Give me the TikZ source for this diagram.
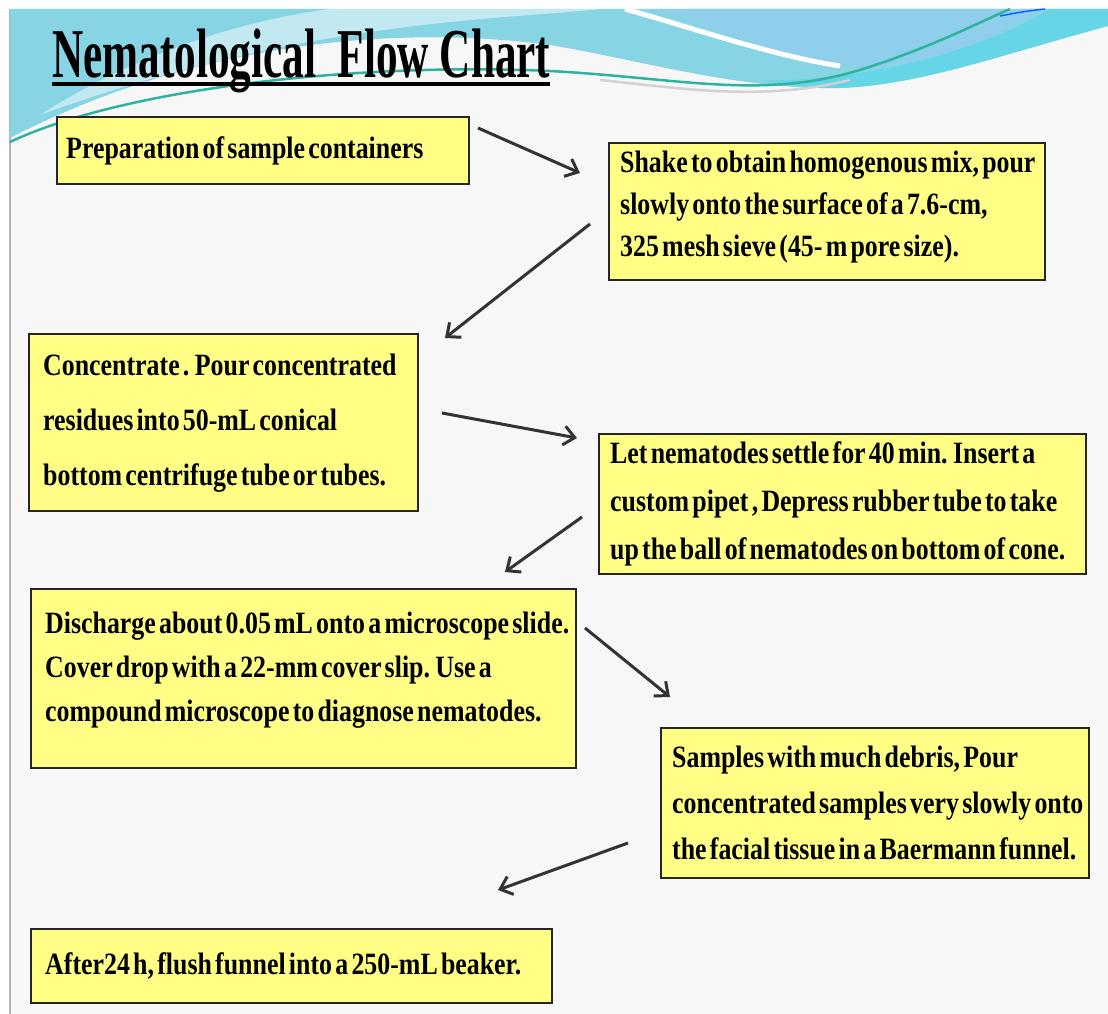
\documentclass[tikz,border=0pt]{standalone}
\usepackage{fontspec}
\usepackage{graphicx}
\setmainfont{Liberation Serif}
\newfontfamily\boxfont[FakeStretch=0.835,WordSpace=0.5]{Liberation Serif}
\usetikzlibrary{arrows.meta}
\definecolor{boxyellow}{HTML}{FFFF85}
\definecolor{slidebg}{HTML}{F7F7F7}
\definecolor{wcyan}{HTML}{86D4E4}
\definecolor{wcyanb}{HTML}{66D6E6}
\definecolor{wblue}{HTML}{8FCFEC}
\definecolor{wteal}{HTML}{2DB3A0}
\definecolor{arrowgray}{HTML}{333333}
\tikzset{
  flowbox/.style={draw=black!85, line width=2.4pt, fill=boxyellow, anchor=north west, inner sep=0pt},
  boxtext/.style={anchor=west, align=left, inner sep=0pt, font=\boxfont\bfseries\fontsize{31}{#1}\selectfont},
  flowarrow/.style={draw=arrowgray, line width=3pt, -{Straight Barb[length=11pt,width=19pt]}}
}
\begin{document}
\begin{tikzpicture}[x=1pt,y=-1pt]
\useasboundingbox (0,0) rectangle (1108,1014);
% background
\fill[white] (0,0) rectangle (1108,1014);
\fill[slidebg] (10,9) rectangle (1108,1014);
\draw[gray!60, line width=1.2pt] (10,9) -- (10,1014);
% wave
\fill[wcyan] (10,9) -- (1108,9) -- (1108,26) .. controls (1000,55) and (920,85) .. (840,88) .. controls (740,90) and (640,60) .. (550,45) .. controls (400,25) and (200,40) .. (10,138) -- cycle;
\fill[white,opacity=0.5] (40,115) .. controls (150,45) and (260,18) .. (330,9) -- (600,9) .. controls (500,20) and (300,20) .. (40,115) -- cycle;
\fill[wblue] (660,9) .. controls (730,35) and (790,62) .. (860,66) .. controls (930,68) and (990,40) .. (1040,9) -- cycle;
\fill[wcyanb] (760,80) .. controls (880,82) and (990,45) .. (1050,9) -- (1108,9) -- (1108,26) .. controls (1000,55) and (920,85) .. (840,88) .. controls (810,88) and (785,85) .. (760,80) -- cycle;
\draw[white, line width=5pt] (625,9) .. controls (700,30) and (770,55) .. (840,66);
\draw[gray!35, line width=2.5pt] (600,80) .. controls (680,88) and (760,102) .. (850,80);
\draw[wteal, line width=2.5pt] (10,142) .. controls (120,90) and (350,62) .. (550,71) .. controls (680,78) and (760,100) .. (860,70) .. controls (930,48) and (980,22) .. (1010,9);
\draw[blue!60!cyan, line width=1.5pt] (1000,16) .. controls (1020,12) and (1035,10) .. (1045,9);
% title
\node[anchor=base west, inner sep=0pt] (title) at (52,78) {\resizebox{498pt}{\height}{\fontsize{70}{70}\selectfont\bfseries Nematological~~Flow Chart}};
\draw[line width=4.5pt] ([yshift=-6pt]title.base west) -- ([yshift=-6pt]title.base east);
% boxes
\node[flowbox, minimum width=412, minimum height=67] (b1) at (56,116) {};
\node[boxtext={42}] (t1) at ([xshift=10pt]b1.west) {Preparation of sample containers};
\node[flowbox, minimum width=436, minimum height=137] (b2) at (608,142) {};
\node[boxtext={42}] (t2) at ([xshift=12pt,yshift=5pt]b2.west) {Shake to obtain homogenous mix, pour\\slowly onto the surface of a 7.6-cm,\\325 mesh sieve (45- m pore size).};
\node[flowbox, minimum width=389, minimum height=177] (b3) at (28,333) {};
\node[boxtext={55}] (t3) at ([xshift=15pt]b3.west) {Concentrate . Pour concentrated\\residues into 50-mL conical\\bottom centrifuge tube or tubes.};
\node[flowbox, minimum width=487, minimum height=140] (b4) at (598,433) {};
\node[boxtext={48}] (t4) at ([xshift=12pt]b4.west) {Let nematodes settle for 40 min. Insert a\\custom pipet , Depress rubber tube to take\\up the ball of nematodes on bottom of cone.};
\node[flowbox, minimum width=545, minimum height=179] (b5) at (30,588) {};
\node[boxtext={44}] (t5) at ([xshift=15pt,yshift=9pt]b5.west) {Discharge about 0.05 mL onto a microscope slide.\\Cover drop with a 22-mm cover slip. Use a\\compound microscope to diagnose nematodes.};
\node[flowbox, minimum width=428, minimum height=150] (b6) at (660,727) {};
\node[boxtext={46}] (t6) at ([xshift=12pt]b6.west) {Samples with much debris, Pour\\concentrated samples very slowly onto\\the facial tissue in a Baermann funnel.};
\node[flowbox, minimum width=521, minimum height=74] (b7) at (30,928) {};
\node[boxtext={42}] (t7) at ([xshift=15pt]b7.west) {After24 h, flush funnel into a 250-mL beaker.};
% arrow end points
\coordinate (a1s) at (478,128); \coordinate (a1e) at (580,173);
\coordinate (a2s) at (590,224); \coordinate (a2e) at (445,338);
\coordinate (a3s) at (442,413); \coordinate (a3e) at (577,438);
\coordinate (a4s) at (582,517); \coordinate (a4e) at (505,572);
\coordinate (a5s) at (585,628); \coordinate (a5e) at (670,697);
\coordinate (a6s) at (628,843); \coordinate (a6e) at (498,890);
\draw[flowarrow] (a1s) -- (a1e);
\draw[flowarrow] (a2s) -- (a2e);
\draw[flowarrow] (a3s) -- (a3e);
\draw[flowarrow] (a4s) -- (a4e);
\draw[flowarrow] (a5s) -- (a5e);
\draw[flowarrow] (a6s) -- (a6e);
\end{tikzpicture}
\end{document}
